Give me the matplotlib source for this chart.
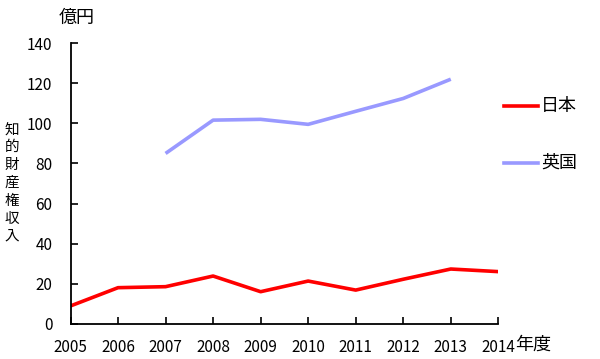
import matplotlib
matplotlib.use("Agg")
from matplotlib import pyplot as plt

plt.rcParams['font.family'] = ['Noto Sans CJK JP', 'DejaVu Sans']

# Data
years = [2005, 2006, 2007, 2008, 2009, 2010, 2011, 2012, 2013, 2014]
japan = [9.0, 18.1, 18.6, 23.9, 16.1, 21.4, 16.9, 22.3, 27.4, 26.1]
uk_years = [2007, 2008, 2009, 2010, 2011, 2012, 2013]
uk = [85.0, 101.6, 102.0, 99.5, 106.0, 112.4, 122.0]
yticks = [0, 20, 40, 60, 80, 100, 120, 140]

fig = plt.figure(figsize=(6.0, 3.59), dpi=100)
ax = fig.add_axes([0.1175, 0.0975, 0.713, 0.7825])

ax.plot(years, japan, color='#FF0000', linewidth=2.6, solid_capstyle='butt')
ax.plot(uk_years, uk, color='#9999FF', linewidth=2.6, solid_capstyle='butt')

ax.set_xlim(2005, 2014)
ax.set_ylim(0, 140)
ax.set_xticks(years)
ax.set_yticks(yticks)
ax.tick_params(direction='in', length=5, width=1.2, labelsize=11, colors='black')
ax.tick_params(axis='y', pad=13)
ax.tick_params(axis='x', pad=11)
for side in ['top', 'right']:
    ax.spines[side].set_visible(False)
for side in ['left', 'bottom']:
    ax.spines[side].set_linewidth(1.3)

# Units and axis caption
fig.text(59 / 600, 1 - 18 / 359, '億円', fontsize=13, va='center', ha='left')
fig.text(515 / 600, 1 - 345 / 359, '年度', fontsize=13, va='center', ha='left')
fig.text(12 / 600, 1 - 183 / 359, '\n'.join('知的財産権収入'), fontsize=10.5,
         va='center', ha='center', linespacing=1.35)

# Legend drawn by hand at the right
for label, color, ypix in [('日本', '#FF0000', 106), ('英国', '#9999FF', 163)]:
    yf = 1 - ypix / 359
    fig.add_artist(plt.Line2D([504 / 600, 538 / 600], [yf, yf], color=color,
                              linewidth=2.6, transform=fig.transFigure))
    fig.text(541 / 600, yf, label, fontsize=13, va='center', ha='left')

fig.savefig('out.png', dpi=100, facecolor='white')
